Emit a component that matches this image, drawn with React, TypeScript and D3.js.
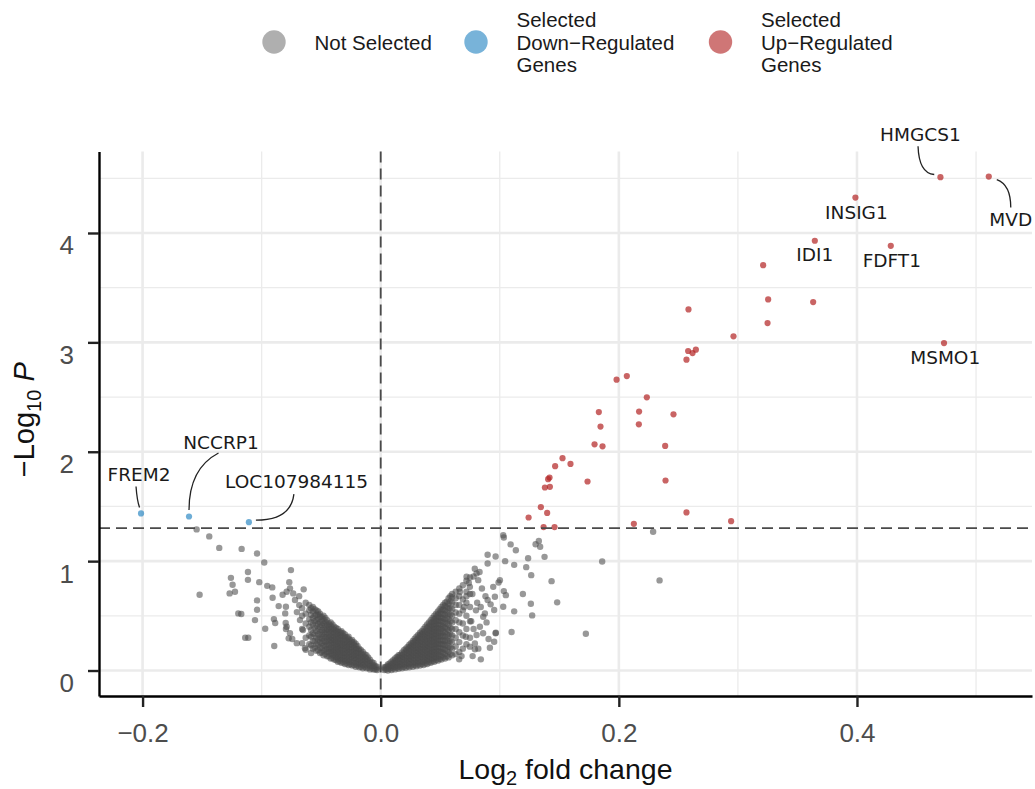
import * as d3 from "d3";
import { useRef, useEffect } from "react";

const width = 1035;
const height = 789;
const margin = { top: 151.5, right: 3, bottom: 93, left: 99 };

const xDomain = [-0.2366, 0.547];
const yDomain = [-0.233, 4.745];
const xTicks = [-0.2, 0.0, 0.2, 0.4];
const xMinor = [-0.1, 0.1, 0.3, 0.5];
const yTicks = [0, 1, 2, 3, 4];
const yMinor = [0.5, 1.5, 2.5, 3.5, 4.5];
const pCutoff = 1.30103; // -log10(0.05)
const fcCutoff = 0;

// dense V of not-selected genes, one row per fold change: [log2FC, -log10P ...]
const coreLeft: number[][] = [
  [-0.003, 0.005, 0.02, 0.035],
  [-0.0045, 0.01, 0.04],
  [-0.006, 0.01, 0.03, 0.05, 0.07],
  [-0.0075, 0.02, 0.045, 0.075],
  [-0.009, 0.01, 0.04, 0.07, 0.1],
  [-0.0105, 0.025, 0.06, 0.09, 0.12],
  [-0.012, 0.02, 0.05, 0.08, 0.11, 0.14],
  [-0.0135, 0.035, 0.065, 0.095, 0.125, 0.15],
  [-0.015, 0.02, 0.05, 0.08, 0.11, 0.14, 0.17],
  [-0.0165, 0.035, 0.065, 0.095, 0.125, 0.155, 0.185],
  [-0.018, 0.03, 0.06, 0.09, 0.12, 0.15, 0.18, 0.2],
  [-0.0195, 0.045, 0.075, 0.105, 0.135, 0.165, 0.195, 0.225],
  [-0.021, 0.035, 0.065, 0.1, 0.13, 0.16, 0.19, 0.22, 0.245],
  [-0.0225, 0.05, 0.085, 0.115, 0.145, 0.175, 0.205, 0.235, 0.26],
  [-0.024, 0.045, 0.075, 0.11, 0.14, 0.17, 0.2, 0.23, 0.26, 0.28],
  [-0.0255, 0.06, 0.095, 0.125, 0.155, 0.185, 0.215, 0.245, 0.275],
  [-0.027, 0.05, 0.08, 0.11, 0.14, 0.17, 0.2, 0.23, 0.26, 0.29, 0.31],
  [-0.0285, 0.065, 0.095, 0.125, 0.155, 0.185, 0.215, 0.245, 0.275, 0.305],
  [-0.03, 0.06, 0.09, 0.12, 0.15, 0.18, 0.21, 0.24, 0.27, 0.3, 0.33],
  [-0.0315, 0.075, 0.105, 0.135, 0.165, 0.195, 0.225, 0.255, 0.285, 0.315, 0.34],
  [-0.033, 0.07, 0.1, 0.13, 0.16, 0.19, 0.22, 0.25, 0.28, 0.31, 0.34, 0.36],
  [-0.0345, 0.085, 0.115, 0.145, 0.175, 0.205, 0.235, 0.265, 0.295, 0.325, 0.355],
  [-0.036, 0.08, 0.11, 0.14, 0.17, 0.2, 0.23, 0.26, 0.29, 0.32, 0.35, 0.38],
  [-0.0375, 0.095, 0.125, 0.155, 0.185, 0.215, 0.245, 0.275, 0.305, 0.335, 0.365, 0.39],
  [-0.039, 0.1, 0.13, 0.16, 0.19, 0.22, 0.25, 0.28, 0.31, 0.34, 0.37, 0.4],
  [-0.0405, 0.115, 0.145, 0.175, 0.205, 0.235, 0.265, 0.295, 0.325, 0.355, 0.385, 0.42],
  [-0.042, 0.11, 0.15, 0.18, 0.21, 0.25, 0.28, 0.31, 0.35, 0.38, 0.41, 0.44],
  [-0.0435, 0.13, 0.165, 0.2, 0.23, 0.265, 0.3, 0.33, 0.365, 0.4, 0.43],
  [-0.045, 0.13, 0.17, 0.2, 0.24, 0.28, 0.31, 0.35, 0.38, 0.42, 0.46],
  [-0.0465, 0.15, 0.19, 0.225, 0.26, 0.3, 0.335, 0.37, 0.41, 0.445, 0.48],
  [-0.048, 0.14, 0.18, 0.23, 0.27, 0.31, 0.35, 0.39, 0.43, 0.47, 0.5],
  [-0.0495, 0.165, 0.205, 0.25, 0.29, 0.33, 0.37, 0.415, 0.455, 0.49],
  [-0.051, 0.16, 0.21, 0.26, 0.3, 0.35, 0.4, 0.44, 0.49, 0.52],
  [-0.0525, 0.185, 0.235, 0.285, 0.33, 0.38, 0.43, 0.47, 0.51, 0.54],
  [-0.054, 0.18, 0.24, 0.3, 0.36, 0.41, 0.46, 0.51, 0.55],
  [-0.0555, 0.21, 0.27, 0.33, 0.39, 0.45, 0.5, 0.56],
  [-0.057, 0.2, 0.27, 0.34, 0.42, 0.48, 0.54, 0.58],
  [-0.0585, 0.23, 0.31, 0.37, 0.44, 0.51, 0.57],
  [-0.06, 0.24, 0.32, 0.4, 0.47, 0.55, 0.6],
  [-0.063, 0.19, 0.3, 0.43, 0.52, 0.62],
  [-0.066, 0.25, 0.38, 0.5, 0.57],
];

const coreRight: number[][] = [
  [0.003, 0.005, 0.02, 0.03],
  [0.0045, 0.01, 0.035],
  [0.006, 0.0, 0.02, 0.04, 0.055],
  [0.0075, 0.015, 0.04, 0.065],
  [0.009, 0.005, 0.03, 0.055, 0.08],
  [0.0105, 0.02, 0.045, 0.07, 0.095],
  [0.012, 0.01, 0.035, 0.06, 0.085, 0.11],
  [0.0135, 0.025, 0.05, 0.075, 0.1, 0.125],
  [0.015, 0.015, 0.04, 0.07, 0.1, 0.125, 0.14],
  [0.0165, 0.03, 0.055, 0.085, 0.115, 0.145],
  [0.018, 0.02, 0.05, 0.08, 0.11, 0.14, 0.165],
  [0.0195, 0.035, 0.065, 0.095, 0.125, 0.155, 0.185],
  [0.021, 0.025, 0.055, 0.085, 0.115, 0.145, 0.175, 0.2],
  [0.0225, 0.04, 0.07, 0.1, 0.13, 0.16, 0.19, 0.215],
  [0.024, 0.03, 0.06, 0.09, 0.12, 0.15, 0.18, 0.21, 0.235],
  [0.0255, 0.045, 0.075, 0.105, 0.135, 0.165, 0.195, 0.225, 0.25],
  [0.027, 0.035, 0.065, 0.1, 0.13, 0.16, 0.19, 0.22, 0.25, 0.27],
  [0.0285, 0.05, 0.08, 0.115, 0.145, 0.175, 0.205, 0.235, 0.265, 0.29],
  [0.03, 0.04, 0.07, 0.1, 0.13, 0.16, 0.19, 0.22, 0.25, 0.28, 0.31],
  [0.0315, 0.055, 0.085, 0.115, 0.145, 0.175, 0.205, 0.235, 0.265, 0.295, 0.325],
  [0.033, 0.045, 0.075, 0.11, 0.14, 0.17, 0.2, 0.23, 0.26, 0.29, 0.32, 0.345],
  [0.0345, 0.06, 0.09, 0.125, 0.155, 0.185, 0.215, 0.245, 0.275, 0.305, 0.335, 0.36],
  [0.036, 0.05, 0.08, 0.11, 0.14, 0.17, 0.2, 0.23, 0.26, 0.29, 0.32, 0.35, 0.38],
  [0.0375, 0.065, 0.095, 0.125, 0.155, 0.185, 0.215, 0.245, 0.275, 0.305, 0.335, 0.365, 0.4],
  [0.039, 0.06, 0.09, 0.12, 0.15, 0.18, 0.21, 0.24, 0.27, 0.3, 0.33, 0.36, 0.39, 0.42],
  [0.0405, 0.075, 0.105, 0.135, 0.165, 0.195, 0.225, 0.255, 0.285, 0.315, 0.345, 0.375, 0.405, 0.44],
  [0.042, 0.07, 0.1, 0.13, 0.16, 0.19, 0.22, 0.25, 0.28, 0.31, 0.34, 0.37, 0.4, 0.43, 0.46],
  [0.0435, 0.085, 0.115, 0.145, 0.175, 0.205, 0.235, 0.265, 0.295, 0.325, 0.355, 0.385, 0.415, 0.445, 0.48],
  [0.045, 0.08, 0.11, 0.14, 0.17, 0.2, 0.23, 0.26, 0.29, 0.32, 0.35, 0.38, 0.41, 0.44, 0.47, 0.5],
  [0.0465, 0.095, 0.125, 0.155, 0.185, 0.215, 0.245, 0.275, 0.305, 0.335, 0.365, 0.395, 0.425, 0.455, 0.485, 0.52],
  [0.048, 0.09, 0.12, 0.15, 0.18, 0.21, 0.24, 0.27, 0.3, 0.33, 0.36, 0.39, 0.42, 0.45, 0.48, 0.51, 0.54],
  [0.0495, 0.105, 0.14, 0.175, 0.21, 0.245, 0.28, 0.315, 0.35, 0.385, 0.42, 0.455, 0.49, 0.525, 0.56],
  [0.051, 0.1, 0.13, 0.17, 0.2, 0.24, 0.27, 0.31, 0.34, 0.38, 0.41, 0.45, 0.48, 0.52, 0.55, 0.58],
  [0.0525, 0.12, 0.16, 0.2, 0.24, 0.28, 0.32, 0.36, 0.4, 0.44, 0.48, 0.52, 0.56, 0.6],
  [0.054, 0.11, 0.15, 0.19, 0.23, 0.27, 0.31, 0.35, 0.39, 0.43, 0.47, 0.51, 0.55, 0.59, 0.62],
  [0.0555, 0.13, 0.18, 0.23, 0.28, 0.33, 0.38, 0.43, 0.48, 0.53, 0.58, 0.63],
  [0.057, 0.12, 0.17, 0.22, 0.27, 0.32, 0.37, 0.42, 0.47, 0.52, 0.57, 0.61, 0.66],
  [0.0585, 0.15, 0.21, 0.27, 0.33, 0.39, 0.45, 0.51, 0.57, 0.63, 0.68],
  [0.06, 0.14, 0.2, 0.26, 0.32, 0.38, 0.44, 0.5, 0.56, 0.62, 0.67, 0.7],
  [0.063, 0.15, 0.22, 0.3, 0.38, 0.46, 0.53, 0.6, 0.66, 0.72],
  [0.066, 0.17, 0.26, 0.35, 0.44, 0.52, 0.6, 0.68, 0.75],
  [0.069, 0.2, 0.32, 0.43, 0.55, 0.65, 0.78],
  [0.072, 0.24, 0.38, 0.5, 0.62, 0.72, 0.82],
  [0.075, 0.3, 0.45, 0.58, 0.7, 0.85],
];

// scattered not-selected genes outside the dense V
const greyLeft: [number, number][] = [
  [-0.1546, 1.29], [-0.144, 1.226], [-0.1356, 1.121], [-0.1168, 1.112], [-0.1039, 1.07],
  [-0.0978, 0.988], [-0.0754, 0.918], [-0.1258, 0.847], [-0.1115, 0.9], [-0.1115, 0.829],
  [-0.1244, 0.784], [-0.102, 0.808], [-0.0953, 0.774], [-0.0911, 0.76], [-0.0768, 0.808],
  [-0.0647, 0.742], [-0.1521, 0.692], [-0.1269, 0.705], [-0.1224, 0.72], [-0.1039, 0.641],
  [-0.0908, 0.665], [-0.0857, 0.589], [-0.1039, 0.555], [-0.1196, 0.522], [-0.1171, 0.516],
  [-0.1056, 0.461], [-0.0897, 0.47], [-0.0886, 0.434], [-0.097, 0.382], [-0.0798, 0.434],
  [-0.0796, 0.379], [-0.1138, 0.3], [-0.1112, 0.3], [-0.0894, 0.224], [-0.0773, 0.294],
  [-0.0743, 0.288], [-0.0762, 0.34], [-0.0824, 0.692], [-0.079, 0.72], [-0.0762, 0.751],
  [-0.0735, 0.705], [-0.0796, 0.583], [-0.0802, 0.522], [-0.0684, 0.598], [-0.0636, 0.203],
  [-0.079, 0.4], [-0.0678, 0.461], [-0.0704, 0.534], [-0.0653, 0.37], [-0.072, 0.644],
  [-0.0685, 0.68], [-0.0705, 0.25], [-0.0585, 0.16],
];

const greyRight: [number, number][] = [
  [0.1029, 1.237], [0.1034, 1.216], [0.1091, 1.153], [0.1135, 1.1], [0.1301, 1.155],
  [0.1328, 1.185], [0.1339, 1.131], [0.1376, 1.039], [0.1238, 1.027], [0.1222, 0.945],
  [0.1264, 0.872], [0.0898, 1.058], [0.0965, 1.043], [0.0898, 0.979], [0.1045, 1.0],
  [0.1121, 0.966], [0.1435, 0.817], [0.1194, 0.699], [0.1261, 0.61], [0.1272, 0.504],
  [0.1121, 0.541], [0.1034, 0.726], [0.1051, 0.689], [0.1029, 0.583], [0.1482, 0.623],
  [0.1099, 0.352], [0.186, 0.997], [0.1723, 0.336], [0.2288, 1.268], [0.2342, 0.824],
  [0.099, 0.805], [0.0959, 0.674], [0.0898, 0.644], [0.0923, 0.605], [0.0953, 0.553],
  [0.0889, 0.44], [0.0965, 0.34], [0.0906, 0.288], [0.0953, 0.263], [0.0917, 0.208],
  [0.0841, 0.102], [0.0791, 0.194], [0.0772, 0.132], [0.0659, 0.102], [0.0679, 0.132],
  [0.0805, 0.888], [0.0721, 0.857], [0.0819, 0.826], [0.0749, 0.765], [0.1001, 0.826],
  [0.0861, 0.491], [0.0833, 0.4], [0.0805, 0.324], [0.0791, 0.248], [0.0749, 0.218],
  [0.0715, 0.309], [0.0945, 0.765], [0.0665, 0.72], [0.0875, 0.522], [0.0967, 0.345],
  [0.078, 0.86], [0.083, 0.9], [0.079, 0.93], [0.074, 0.8], [0.077, 0.7],
  [0.081, 0.62], [0.085, 0.75], [0.088, 0.68], [0.072, 0.68], [0.08, 0.55],
  [0.076, 0.45], [0.084, 0.58], [0.07, 0.58], [0.078, 0.38], [0.086, 0.34], [0.082, 0.2],
];

// selected genes
const upGenes: [number, number][] = [
  [0.3212, 3.706], [0.3254, 3.393], [0.3249, 3.176], [0.2963, 3.055], [0.2585, 3.301],
  [0.2582, 2.921], [0.2619, 2.902], [0.2647, 2.933], [0.2568, 2.842], [0.1981, 2.659],
  [0.2067, 2.692], [0.2235, 2.498], [0.1832, 2.363], [0.217, 2.367], [0.2459, 2.342],
  [0.1846, 2.23], [0.2168, 2.251], [0.1796, 2.068], [0.1863, 2.05], [0.2389, 2.053],
  [0.1527, 1.941], [0.1594, 1.889], [0.1737, 1.728], [0.2392, 1.737], [0.2568, 1.445],
  [0.2126, 1.341], [0.2943, 1.365], [0.1465, 1.868], [0.1418, 1.764], [0.1406, 1.749],
  [0.1379, 1.673], [0.1421, 1.679], [0.1345, 1.493], [0.1398, 1.441], [0.1242, 1.399],
  [0.1368, 1.311], [0.146, 1.311], [0.3632, 3.368],
];

const upLabelled: [string, number, number][] = [
  ["HMGCS1", 0.4701, 4.51],
  ["MVD", 0.5107, 4.516],
  ["INSIG1", 0.3987, 4.324],
  ["IDI1", 0.3646, 3.929],
  ["FDFT1", 0.4284, 3.883],
  ["MSMO1", 0.4731, 2.994],
];

const downLabelled: [string, number, number][] = [
  ["FREM2", -0.2013, 1.436],
  ["NCCRP1", -0.161, 1.408],
  ["LOC107984115", -0.1107, 1.356],
];

// label placement in px relative to the point: text anchor, connector start / control / end
const labelLayout: Record<string, { tx: number; ty: number; c?: number[] }> = {
  FREM2: { tx: -2, ty: -32, c: [-5, -27, -4, -13, -1.5, -6] },
  NCCRP1: { tx: 32, ty: -68, c: [29.5, -63.5, 0, -48, 0, -6.5] },
  LOC107984115: { tx: 47.7, ty: -33.7, c: [45, -28, 42, -2, 7, -2] },
  HMGCS1: { tx: -20, ty: -36, c: [-22.4, -31, -21.5, -4, -6.2, -2.7] },
  MVD: { tx: 22, ty: 49, c: [8, 3, 22, 8, 22, 31] },
  INSIG1: { tx: 1, ty: 21.3 },
  IDI1: { tx: 0, ty: 20.4 },
  FDFT1: { tx: 1, ty: 21.4 },
  MSMO1: { tx: 1.2, ty: 20.6 },
};

const legendItems = [
  { lines: ["Not Selected"], color: "#4d4d4d", opacity: 0.45 },
  { lines: ["Selected", "Down\u2212Regulated", "Genes"], color: "#2f8ac4", opacity: 0.65 },
  { lines: ["Selected", "Up\u2212Regulated", "Genes"], color: "#b22222", opacity: 0.62 },
];

const font = "'Liberation Sans', Arial, Helvetica, sans-serif";

export default function App() {
  const svgRef = useRef<SVGSVGElement>(null);

  useEffect(() => {
    const svg = d3.select(svgRef.current);
    svg.selectAll("*").remove();

    const x = d3.scaleLinear().domain(xDomain).range([margin.left, width - margin.right]);
    const y = d3.scaleLinear().domain(yDomain).range([height - margin.bottom, margin.top]);
    const top = margin.top;
    const bottom = height - margin.bottom;
    const left = margin.left;
    const right = width - margin.right;

    svg.append("rect").attr("width", width).attr("height", height).attr("fill", "white");

    // grid
    const grid = svg.append("g");
    grid.selectAll(".ymin").data(yMinor).join("line")
      .attr("x1", left).attr("x2", right).attr("y1", d => y(d)).attr("y2", d => y(d))
      .attr("stroke", "#ebebeb").attr("stroke-width", 1.3);
    grid.selectAll(".xmin").data(xMinor).join("line")
      .attr("y1", top).attr("y2", bottom).attr("x1", d => x(d)).attr("x2", d => x(d))
      .attr("stroke", "#ebebeb").attr("stroke-width", 1.3);
    grid.selectAll(".ymaj").data(yTicks).join("line")
      .attr("x1", left).attr("x2", right).attr("y1", d => y(d)).attr("y2", d => y(d))
      .attr("stroke", "#ebebeb").attr("stroke-width", 2.6);
    grid.selectAll(".xmaj").data(xTicks).join("line")
      .attr("y1", top).attr("y2", bottom).attr("x1", d => x(d)).attr("x2", d => x(d))
      .attr("stroke", "#ebebeb").attr("stroke-width", 2.6);

    // points
    const core = [...coreLeft, ...coreRight].flatMap(([fc, ...ps]) => ps.map(p => [fc, p]));
    const grey = [...core, ...greyLeft, ...greyRight];
    const pts = svg.append("g");
    pts.selectAll("circle.grey").data(grey).join("circle")
      .attr("cx", d => x(d[0])).attr("cy", d => y(d[1])).attr("r", 3.2)
      .attr("fill", "#4d4d4d").attr("fill-opacity", 0.58);

    const up = [...upGenes, ...upLabelled.map(d => [d[1], d[2]])];
    pts.selectAll("circle.up").data(up).join("circle")
      .attr("cx", d => x(d[0])).attr("cy", d => y(d[1])).attr("r", 3.1)
      .attr("fill", "#b22222").attr("fill-opacity", 0.7);
    pts.selectAll("circle.down").data(downLabelled).join("circle")
      .attr("cx", d => x(d[1])).attr("cy", d => y(d[2])).attr("r", 3.1)
      .attr("fill", "#2f8ac4").attr("fill-opacity", 0.7);

    // cutoff lines
    svg.append("line")
      .attr("x1", left).attr("x2", right).attr("y1", y(pCutoff)).attr("y2", y(pCutoff))
      .attr("stroke", "#4a4a4a").attr("stroke-width", 1.8).attr("stroke-dasharray", "11 6");
    svg.append("line")
      .attr("y1", top).attr("y2", bottom).attr("x1", x(fcCutoff)).attr("x2", x(fcCutoff))
      .attr("stroke", "#4a4a4a").attr("stroke-width", 1.8).attr("stroke-dasharray", "11 6");

    // labels
    const labelled = [...upLabelled, ...downLabelled];
    const lab = svg.append("g");
    labelled.forEach(([gene, fc, p]) => {
      const px = x(fc);
      const py = y(p);
      const l = labelLayout[gene];
      if (l.c) {
        const c = l.c;
        lab.append("path")
          .attr("d", `M${px + c[0]},${py + c[1]}Q${px + c[2]},${py + c[3]} ${px + c[4]},${py + c[5]}`)
          .attr("fill", "none").attr("stroke", "#222").attr("stroke-width", 1.3);
      }
      lab.append("text")
        .attr("x", px + l.tx).attr("y", py + l.ty)
        .attr("text-anchor", "middle")
        .attr("font-family", "'DejaVu Sans', sans-serif").attr("font-size", 18.5)
        .attr("fill", "#1a1a1a")
        .text(gene);
    });

    // axes
    const xAxis = svg.append("g").attr("transform", `translate(0,${bottom})`)
      .call(d3.axisBottom(x).tickValues(xTicks).tickSize(11).tickSizeOuter(0)
        .tickFormat(d => d3.format(".1f")(d as number).replace("-", "\u2212")));
    const yAxis = svg.append("g").attr("transform", `translate(${left},0)`)
      .call(d3.axisLeft(y).tickValues(yTicks).tickSize(11).tickSizeOuter(0).tickFormat(d3.format("d")));
    [xAxis, yAxis].forEach(a => {
      a.select(".domain").attr("stroke", "#000").attr("stroke-width", 2.4);
      a.selectAll(".tick line").attr("stroke", "#222").attr("stroke-width", 2.4);
      a.selectAll(".tick text").attr("font-family", font).attr("font-size", 26).attr("fill", "#4d4d4d");
    });
    xAxis.selectAll(".tick text").attr("y", 46).attr("dy", 0);
    yAxis.selectAll(".tick text").attr("x", -25).attr("dy", 21);

    // axis titles
    const xt = svg.append("text")
      .attr("x", (left + right) / 2).attr("y", 779)
      .attr("text-anchor", "middle").attr("font-family", font).attr("font-size", 28.5).attr("fill", "#111");
    xt.append("tspan").text("Log");
    xt.append("tspan").attr("font-size", 20).attr("dy", 6).text("2");
    xt.append("tspan").attr("dy", -6).text(" fold change");

    const yt = svg.append("text")
      .attr("transform", `translate(34,${(top + bottom) / 2 - 4}) rotate(-90)`)
      .attr("text-anchor", "middle").attr("font-family", font).attr("font-size", 29).attr("fill", "#111");
    yt.append("tspan").text("\u2212Log");
    yt.append("tspan").attr("font-size", 20).attr("dy", 7).text("10");
    yt.append("tspan").attr("dy", -7).text(" ");
    yt.append("tspan").attr("font-style", "italic").text("P");

    // legend
    const legendX = [274, 476, 720.5];
    const leg = svg.append("g");
    legendItems.forEach((item, i) => {
      leg.append("circle").attr("cx", legendX[i]).attr("cy", 42).attr("r", 11.7)
        .attr("fill", item.color).attr("fill-opacity", item.opacity);
      const n = item.lines.length;
      item.lines.forEach((line, j) => {
        leg.append("text")
          .attr("x", legendX[i] + 40.5)
          .attr("y", 49.5 + (j - (n - 1) / 2) * 22.5)
          .attr("font-family", font).attr("font-size", 20.5).attr("fill", "#1a1a1a")
          .text(line);
      });
    });
  }, []);

  return (
    <svg ref={svgRef} width={width} height={height}
      style={{ position: "absolute", left: 0, top: 0, display: "block" }} />
  );
}
